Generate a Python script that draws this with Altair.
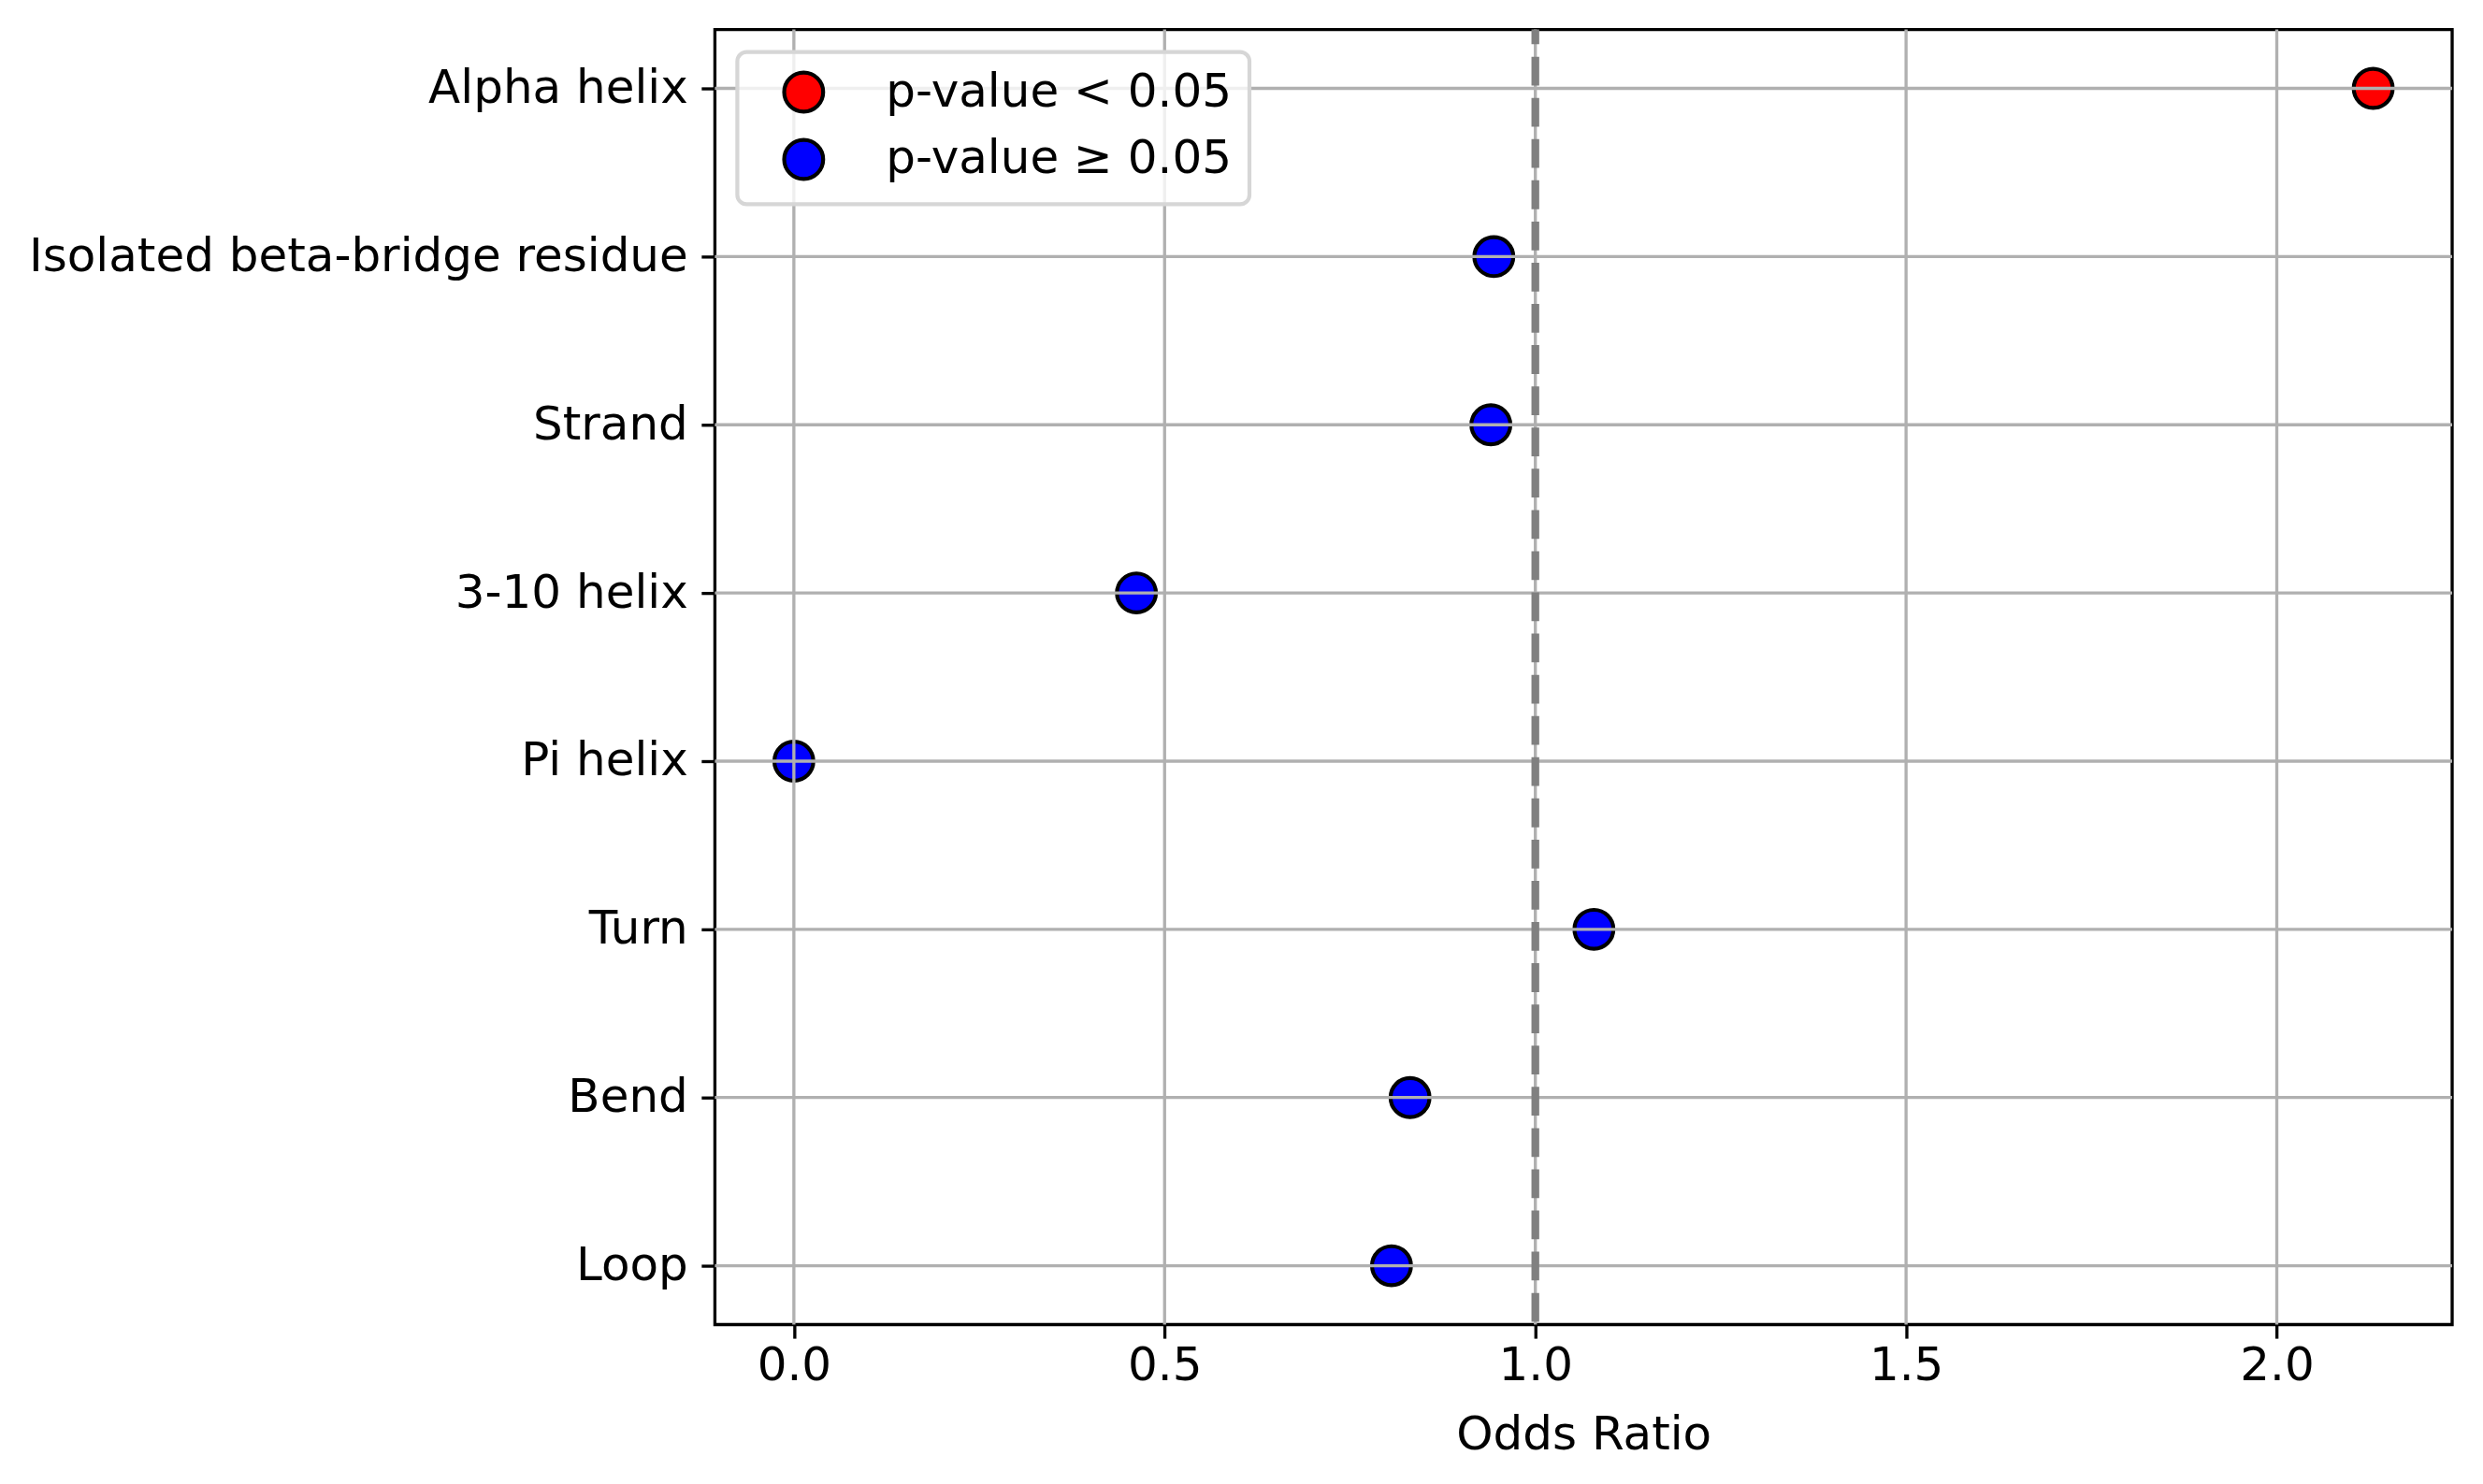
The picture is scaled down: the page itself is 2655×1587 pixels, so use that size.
import altair as alt
import pandas as pd

# ---- data ----
categories = ["Alpha helix", "Isolated beta-bridge residue", "Strand", "3-10 helix",
              "Pi helix", "Turn", "Bend", "Loop"]
odds_ratios = [2.13, 0.944, 0.940, 0.462, 0.0, 1.079, 0.831, 0.806]
significance = ["p-value < 0.05", "p-value ≥ 0.05", "p-value ≥ 0.05", "p-value ≥ 0.05",
                "p-value ≥ 0.05", "p-value ≥ 0.05", "p-value ≥ 0.05", "p-value ≥ 0.05"]
legend_labels = ["p-value < 0.05", "p-value ≥ 0.05"]
legend_colors = ["#ff0000", "#0000ff"]
x_ticks = [0.0, 0.5, 1.0, 1.5, 2.0]
reference_value = [1.0]
x_domain = [-0.1065, 2.2365]

FONT = "DejaVu Sans"
FS = 50

df = pd.DataFrame({"Structure": categories, "OddsRatio": odds_ratios, "Significance": significance})
xgrid_df = pd.DataFrame({"OddsRatio": x_ticks})
ygrid_df = pd.DataFrame({"Structure": categories})
ref_df = pd.DataFrame({"OddsRatio": reference_value})

xscale = alt.Scale(domain=x_domain, nice=False, zero=False)
yscale = alt.Scale(domain=categories, type="point", padding=0.35)

xaxis = alt.Axis(values=x_ticks, format=".1f", title="Odds Ratio", grid=False, domain=False,
                 labelFont=FONT, labelFontSize=FS, labelColor="#000000", labelPadding=4,
                 labelLimit=2000,
                 tickSize=14.6, tickWidth=3.33, tickColor="#000000",
                 titleFont=FONT, titleFontSize=FS, titleFontWeight="normal", titleColor="#000000",
                 titlePadding=24)
yaxis = alt.Axis(title=None, grid=False, domain=False,
                 labelFont=FONT, labelFontSize=FS, labelColor="#000000", labelPadding=14.6,
                 labelLimit=2000,
                 tickSize=14.6, tickWidth=3.33, tickColor="#000000")

x_enc = alt.X("OddsRatio:Q", scale=xscale, axis=xaxis)
y_enc = alt.Y("Structure:N", scale=yscale, axis=yaxis, sort=categories)

points = alt.Chart(df).mark_circle(size=1740, opacity=1, stroke="#000000", strokeWidth=4.2).encode(
    x=x_enc,
    y=y_enc,
    color=alt.Color("Significance:N",
                    scale=alt.Scale(domain=legend_labels, range=legend_colors),
                    legend=alt.Legend(title=None, orient="top-left", offset=24)),
)

xgrid = alt.Chart(xgrid_df).mark_rule(color="#b0b0b0", strokeWidth=3.33).encode(x=x_enc)
ygrid = alt.Chart(ygrid_df).mark_rule(color="#b0b0b0", strokeWidth=3.33).encode(y=y_enc)
ref = alt.Chart(ref_df).mark_rule(color="#808080", strokeWidth=8.3,
                                  strokeDash=[30.8, 13.3], strokeDashOffset=15).encode(x=x_enc)

chart = alt.layer(points, xgrid, ygrid, ref).properties(
    width=1859, height=1386,
    padding={"left": 22, "top": 18, "right": 23, "bottom": 10},
    background="white",
).configure_view(stroke="#000000", strokeWidth=3.33, fill="white").configure_legend(
    padding=18, fillColor="rgba(255,255,255,0.8)", strokeColor="#d6d6d6",
    strokeWidth=4.2, cornerRadius=10,
    labelFont=FONT, labelFontSize=FS, labelColor="#000000", labelLimit=2000,
    symbolType="circle", symbolSize=1740, symbolOpacity=1,
    symbolStrokeColor="#000000", symbolStrokeWidth=4.2,
    symbolOffset=28, labelOffset=63, rowPadding=12,
)

chart.save("out.html", embed_options={"renderer": "svg", "actions": False})
